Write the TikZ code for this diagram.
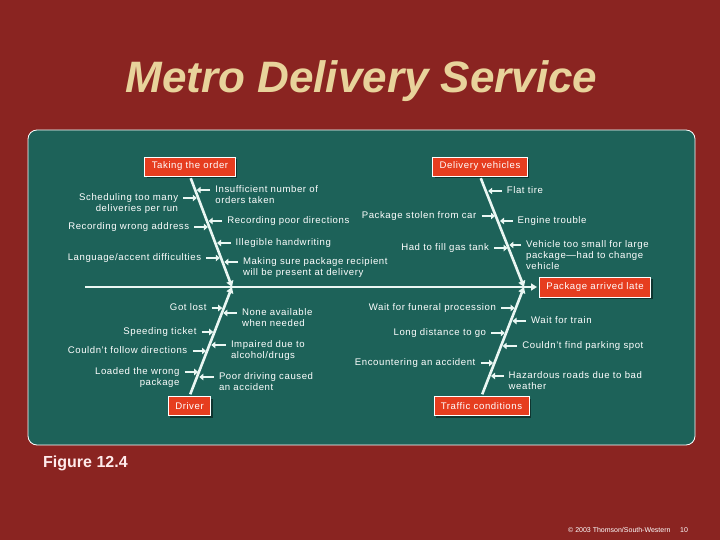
\documentclass[tikz,border=0pt]{standalone}
\usepackage{fontspec}
\setmainfont{Liberation Sans}
\newfontfamily\lblfont[LetterSpace=6]{Liberation Sans}
\usetikzlibrary{arrows.meta,shadows}

\definecolor{slide}{HTML}{8A2421}
\definecolor{board}{HTML}{1D6259}
\definecolor{boxred}{HTML}{E63D1F}
\definecolor{bonewhite}{HTML}{EAF7F3}
\definecolor{titletan}{HTML}{E8D39B}
\newcommand{\lblsize}{\lblfont\fontsize{9.6}{11}\selectfont}

\begin{document}
\begin{tikzpicture}[x=1pt,y=-1pt,
  causebox/.style={draw=white,line width=0.7pt,fill=boxred,text=white,font=\lblsize,
    inner xsep=7pt,minimum height=19pt,
    drop shadow={shadow xshift=2pt,shadow yshift=-2pt,fill=black,opacity=0.45}},
  lblL/.style={text=white,font=\lblsize,inner sep=0pt,align=right,anchor=mid east},
  lblR/.style={text=white,font=\lblsize,inner sep=0pt,align=left,anchor=mid west},
  twolines/.style={yshift=-11pt},
  threelines/.style={yshift=-22pt},
  bone/.style={draw=bonewhite,line width=2.6pt,-{Triangle[length=6pt,width=7pt]}},
  cause/.style={draw=bonewhite,line width=2.4pt,-{Triangle[length=4pt,width=6.5pt]},
    shorten <=5pt,shorten >=1.5pt}]
  \useasboundingbox (0,0) rectangle (720,540);
  \fill[slide] (0,0) rectangle (720,540);
  \draw[white,line width=0.8pt,fill=board,rounded corners=9pt] (28,130) rectangle (695,445);

  \node[font=\fontsize{44}{46}\selectfont\bfseries\itshape,text=titletan,anchor=base] (title) at (361.5,93) {Metro Delivery Service};

  % the four causes and the effect
  \node[causebox] (taking) at (190,166.5) {Taking the order};
  \node[causebox] (vehicles) at (480,166.5) {Delivery vehicles};
  \node[causebox] (driver) at (189.5,406) {Driver};
  \node[causebox] (traffic) at (481.5,406) {Traffic conditions};
  \node[causebox,minimum height=20pt] (late) at (595,287) {Package arrived late};

  % spine and bones
  \coordinate (tail) at (85,287);
  \coordinate (jointL) at (232,287);
  \coordinate (jointR) at (524,287);
  \draw[bone,shorten >=2pt] (tail) -- (late);
  \draw[bone,shorten <=2pt] (taking.south) -- (jointL);
  \draw[bone,shorten <=2pt] (vehicles.south) -- (jointR);
  \draw[bone,shorten <=2pt] (driver.north) -- (jointL);
  \draw[bone,shorten <=2pt] (traffic.north) -- (jointR);

  % taking the order
  \coordinate (sched-pt) at (198.3,198);
  \coordinate (wrong-pt) at (209.4,227);
  \coordinate (lang-pt) at (221.3,258);
  \coordinate (insuff-pt) at (195.2,190);
  \coordinate (poordir-pt) at (207.1,221);
  \coordinate (illeg-pt) at (215.5,243);
  \coordinate (recip-pt) at (222.8,262);
  \node[lblL,twolines] (sched) at ([xshift=-20pt]sched-pt) {Scheduling too many\\deliveries per run};
  \node[lblL] (wrong) at ([xshift=-20pt]wrong-pt) {Recording wrong address};
  \node[lblL] (lang) at ([xshift=-20pt]lang-pt) {Language/accent difficulties};
  \node[lblR,twolines] (insuff) at ([xshift=20pt]insuff-pt) {Insufficient number of\\orders taken};
  \node[lblR] (poordir) at ([xshift=20pt]poordir-pt) {Recording poor directions};
  \node[lblR] (illeg) at ([xshift=20pt]illeg-pt) {Illegible handwriting};
  \node[lblR,twolines] (recip) at ([xshift=20pt]recip-pt) {Making sure package recipient\\will be present at delivery};

  % delivery vehicles
  \coordinate (flat-pt) at (486.7,191);
  \coordinate (stolen-pt) at (496.5,216);
  \coordinate (engine-pt) at (498.5,221);
  \coordinate (gas-pt) at (509.1,248);
  \coordinate (small-pt) at (507.9,245);
  \node[lblR] (flat) at ([xshift=20pt]flat-pt) {Flat tire};
  \node[lblL] (stolen) at ([xshift=-20pt]stolen-pt) {Package stolen from car};
  \node[lblR] (engine) at ([xshift=19pt]engine-pt) {Engine trouble};
  \node[lblL] (gas) at ([xshift=-20pt]gas-pt) {Had to fill gas tank};
  \node[lblR,threelines] (small) at ([xshift=18pt]small-pt) {Vehicle too small for large\\package—had to change\\vehicle};

  % driver
  \coordinate (lost-pt) at (223.7,308);
  \coordinate (speed-pt) at (214.7,332);
  \coordinate (follow-pt) at (207.5,351);
  \coordinate (loaded-pt) at (199.7,372);
  \coordinate (none-pt) at (221.8,313);
  \coordinate (impaired-pt) at (209.8,345);
  \coordinate (crash-pt) at (197.8,377);
  \node[lblL] (lost) at ([xshift=-17pt]lost-pt) {Got lost};
  \node[lblL] (speed) at ([xshift=-18pt]speed-pt) {Speeding ticket};
  \node[lblL] (follow) at ([xshift=-20pt]follow-pt) {Couldn’t follow directions};
  \node[lblL,twolines] (loaded) at ([xshift=-20pt]loaded-pt) {Loaded the wrong\\package};
  \node[lblR,twolines] (none) at ([xshift=20pt]none-pt) {None available\\when needed};
  \node[lblR,twolines] (impaired) at ([xshift=21pt]impaired-pt) {Impaired due to\\alcohol/drugs};
  \node[lblR,twolines] (crash) at ([xshift=21pt]crash-pt) {Poor driving caused\\an accident};

  % traffic conditions
  \coordinate (funeral-pt) at (516.1,308);
  \coordinate (distance-pt) at (506.3,333);
  \coordinate (accident-pt) at (494.6,363);
  \coordinate (train-pt) at (511.0,321);
  \coordinate (parking-pt) at (501.2,346);
  \coordinate (hazard-pt) at (489.5,376);
  \node[lblL] (funeral) at ([xshift=-20pt]funeral-pt) {Wait for funeral procession};
  \node[lblL] (distance) at ([xshift=-20pt]distance-pt) {Long distance to go};
  \node[lblL] (accident) at ([xshift=-19pt]accident-pt) {Encountering an accident};
  \node[lblR] (train) at ([xshift=20pt]train-pt) {Wait for train};
  \node[lblR] (parking) at ([xshift=21pt]parking-pt) {Couldn’t find parking spot};
  \node[lblR,twolines] (hazard) at ([xshift=19pt]hazard-pt) {Hazardous roads due to bad\\weather};

  \foreach \c in {sched,wrong,lang,stolen,gas,lost,speed,follow,loaded,funeral,distance,accident}
    \draw[cause] (\c.mid east |- \c-pt) -- (\c-pt);
  \foreach \c in {insuff,poordir,illeg,recip,flat,engine,small,none,impaired,crash,train,parking,hazard}
    \draw[cause] (\c.mid west |- \c-pt) -- (\c-pt);

  \node[anchor=base west,inner sep=0pt,font=\bfseries\fontsize{16}{18}\selectfont,text=white!92!red] (fig) at (43,467) {Figure 12.4};
  \node[anchor=base west,inner sep=0pt,font=\fontsize{7}{8}\selectfont,text=white] (credit) at (568,532) {\textcopyright\ 2003 Thomson/South-Western};
  \node[anchor=base west,inner sep=0pt,font=\fontsize{7}{8}\selectfont,text=white] (page) at (680,532) {10};
\end{tikzpicture}
\end{document}
